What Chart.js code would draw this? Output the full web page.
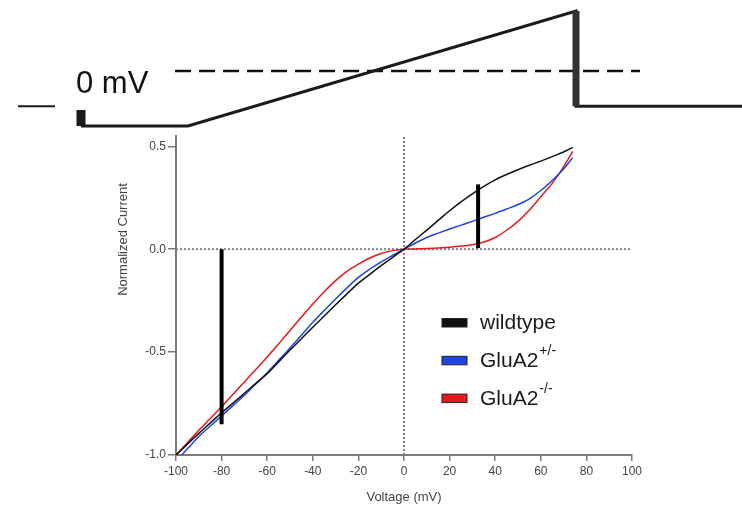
<!DOCTYPE html>
<html>
<head>
<meta charset="utf-8">
<script src="https://cdn.jsdelivr.net/npm/chart.js@4.4.0/dist/chart.umd.min.js"></script>
<style>
body { margin: 0; background: #fff; }
#wrap { position: relative; width: 742px; height: 510px; }
#iv { position: absolute; left: 0; top: 0; }
#proto { position: absolute; left: 0; top: 0; }
</style>
</head>
<body>
<div id="wrap">
<canvas id="iv" width="742" height="510"></canvas>
<canvas id="proto" width="742" height="135"></canvas>
</div>
<script>
// ramp protocol sketch (time units, mV)
var protoT = [81, 188, 576, 576, 742];
var protoV = [-100, -100, 109, -64, -64];
var holdT = [18, 55];
var holdV = [-64, -64];
var stepT = [81, 81];
var stepV = [-71, -100];
var jumpT = [576, 576];
var jumpV = [109, -64];
var zeroT = [175, 640];

// I-V curves, normalized current
var voltage = [-100, -95, -90, -85, -80, -75, -70, -65, -60, -55, -50, -45, -40, -35, -30, -25, -20, -15, -10, -5,
    0, 5, 10, 15, 20, 25, 30, 35, 40, 45, 50, 55, 60, 65, 70, 74];
var wildtype = [-1.0, -0.947, -0.895, -0.845, -0.795, -0.748, -0.70, -0.652, -0.605, -0.548, -0.49, -0.435, -0.379, -0.325, -0.27, -0.217, -0.165, -0.122, -0.08, -0.04,
    0, 0.047, 0.093, 0.14, 0.187, 0.23, 0.269, 0.305, 0.337, 0.363, 0.386, 0.408, 0.428, 0.45, 0.472, 0.495];
var gluA2het = [-1.03, -0.97, -0.91, -0.86, -0.81, -0.76, -0.71, -0.655, -0.60, -0.54, -0.48, -0.418, -0.355, -0.298, -0.242, -0.188, -0.137, -0.097, -0.062, -0.03,
    0, 0.03, 0.057, 0.078, 0.098, 0.117, 0.135, 0.155, 0.174, 0.195, 0.217, 0.245, 0.285, 0.334, 0.39, 0.445];
var gluA2ko = [-1.0, -0.94, -0.88, -0.823, -0.766, -0.705, -0.645, -0.585, -0.524, -0.46, -0.395, -0.33, -0.266, -0.207, -0.153, -0.108, -0.073, -0.043, -0.021, -0.007,
    0, 0.001, 0.003, 0.006, 0.01, 0.015, 0.022, 0.035, 0.057, 0.092, 0.135, 0.19, 0.255, 0.32, 0.40, 0.475];

var seriesNames = [['wildtype', ''], ['GluA2', '+/-'], ['GluA2', '-/-']];
var seriesColors = ['#111111', '#1f45e0', '#e8191c'];

// black vertical markers
var markerV = [-80, 32.5];
var markerFrom = [0, 0.005];
var markerTo = [-0.85, 0.315];

var xTicks = [-100, -80, -60, -40, -20, 0, 20, 40, 60, 80, 100];
var yTicks = [-1, -0.5, 0, 0.5];

Chart.defaults.font.family = "'Liberation Sans', Arial, sans-serif";

function puntos(xs, ys) {
    var out = [];
    for (var i = 0; i < xs.length; i++) {
        out.push({x: xs[i], y: ys[i]});
    }
    return out;
}

function segmento(xs, ys, ancho, extra) {
    var ds = {
        data: puntos(xs, ys),
        showLine: true,
        borderColor: '#1a1a1a',
        borderWidth: ancho,
        pointRadius: 0,
        clip: false
    };
    for (var k in extra) {
        ds[k] = extra[k];
    }
    return ds;
}

// top: voltage protocol
var textoProto = {
    id: 'textoProto',
    afterDraw: function (chart) {
        var ctx = chart.ctx;
        ctx.save();
        ctx.fillStyle = '#111';
        ctx.font = "31px 'Liberation Sans', Arial, sans-serif";
        ctx.textBaseline = 'alphabetic';
        ctx.fillText('0 mV', 76, 93);
        ctx.restore();
    }
};

new Chart(document.getElementById('proto'), {
    type: 'scatter',
    data: {
        datasets: [
            segmento(stepT, stepV, 9, {borderCapStyle: 'butt'}),
            segmento(jumpT, jumpV, 7, {borderColor: '#333'}),
            segmento(protoT, protoV, 3, {}),
            segmento(holdT, holdV, 2, {}),
            segmento(zeroT, [0, 0], 2.5, {borderDash: [16, 8], borderColor: '#111'})
        ]
    },
    options: {
        responsive: false,
        animation: false,
        devicePixelRatio: 1,
        layout: {padding: 0},
        plugins: {legend: {display: false}, tooltip: {enabled: false}},
        scales: {
            x: {type: 'linear', display: false, min: 0, max: 742},
            y: {type: 'linear', display: false, min: -116.4, max: 129.1}
        }
    },
    plugins: [textoProto]
});

// bottom: I-V plot
var leyenda = {
    id: 'leyenda',
    afterDraw: function (chart) {
        var ctx = chart.ctx;
        var a = chart.chartArea;
        ctx.save();
        // y axis title
        ctx.fillStyle = '#444';
        ctx.font = "13px 'Liberation Sans', Arial, sans-serif";
        ctx.textAlign = 'center';
        ctx.textBaseline = 'middle';
        ctx.translate(123, (a.top + a.bottom) / 2 - 56);
        ctx.rotate(-Math.PI / 2);
        ctx.fillText('Normalized Current', 0, 0);
        ctx.restore();

        ctx.save();
        ctx.textAlign = 'left';
        ctx.textBaseline = 'alphabetic';
        for (var i = 0; i < seriesNames.length; i++) {
            var base = 329 + i * 37.8;
            ctx.fillStyle = seriesColors[i];
            ctx.fillRect(442, base - 10.5, 25, 8.5);
            ctx.strokeStyle = '#222';
            ctx.lineWidth = 1;
            ctx.strokeRect(442, base - 10.5, 25, 8.5);
            ctx.fillStyle = '#1a1a1a';
            ctx.font = "21px 'Liberation Sans', Arial, sans-serif";
            ctx.fillText(seriesNames[i][0], 480, base);
            var w = ctx.measureText(seriesNames[i][0]).width;
            if (seriesNames[i][1]) {
                ctx.font = "14px 'Liberation Sans', Arial, sans-serif";
                ctx.fillText(seriesNames[i][1], 480 + w + 1, base - 12);
            }
        }
        ctx.restore();
    }
};

var datasets = [];
for (var m = 0; m < markerV.length; m++) {
    datasets.push({
        data: puntos([markerV[m], markerV[m]], [markerFrom[m], markerTo[m]]),
        showLine: true,
        borderColor: '#000',
        borderWidth: 4,
        pointRadius: 0
    });
}
var curvas = [wildtype, gluA2het, gluA2ko];
for (var c = 0; c < curvas.length; c++) {
    datasets.push({
        data: puntos(voltage, curvas[c]),
        showLine: true,
        borderColor: seriesColors[c],
        borderWidth: 1.5,
        pointRadius: 0,
        cubicInterpolationMode: 'monotone'
    });
}
// dotted zero lines
datasets.push({
    data: puntos([xTicks[0], xTicks[xTicks.length - 1]], [0, 0]),
    showLine: true, borderColor: '#808080', borderWidth: 2, borderDash: [2, 2], pointRadius: 0
});
datasets.push({
    data: puntos([0, 0], [-1, 0.55]),
    showLine: true, borderColor: '#808080', borderWidth: 2, borderDash: [2, 2], pointRadius: 0
});

new Chart(document.getElementById('iv'), {
    type: 'scatter',
    data: {datasets: datasets},
    options: {
        responsive: false,
        animation: false,
        devicePixelRatio: 1,
        layout: {padding: {left: 116, right: 110, top: 136, bottom: 1}},
        plugins: {legend: {display: false}, tooltip: {enabled: false}},
        scales: {
            x: {
                type: 'linear',
                min: -100,
                max: 100,
                afterBuildTicks: function (s) {
                    s.ticks = xTicks.map(function (v) { return {value: v}; });
                },
                afterFit: function (s) { s.height = 54; },
                grid: {display: true, drawOnChartArea: false, drawTicks: true, tickLength: 6, color: '#7a7a7a', lineWidth: 1.5},
                border: {display: true, color: '#7a7a7a', width: 2},
                ticks: {color: '#444', font: {size: 12}, padding: 3, maxRotation: 0},
                title: {display: true, text: 'Voltage (mV)', color: '#444', font: {size: 13}, padding: {top: 0, bottom: 4}}
            },
            y: {
                type: 'linear',
                min: -1,
                max: 0.55,
                afterBuildTicks: function (s) {
                    s.ticks = yTicks.map(function (v) { return {value: v}; });
                },
                afterFit: function (s) { s.width = 60; },
                grid: {display: true, drawOnChartArea: false, drawTicks: true, tickLength: 8, color: '#7a7a7a', lineWidth: 1.5},
                border: {display: true, color: '#7a7a7a', width: 2},
                ticks: {
                    color: '#444',
                    font: {size: 12},
                    padding: 2,
                    callback: function (v) { return Number(v).toFixed(1); }
                }
            }
        }
    },
    plugins: [leyenda]
});
</script>
</body>
</html>
